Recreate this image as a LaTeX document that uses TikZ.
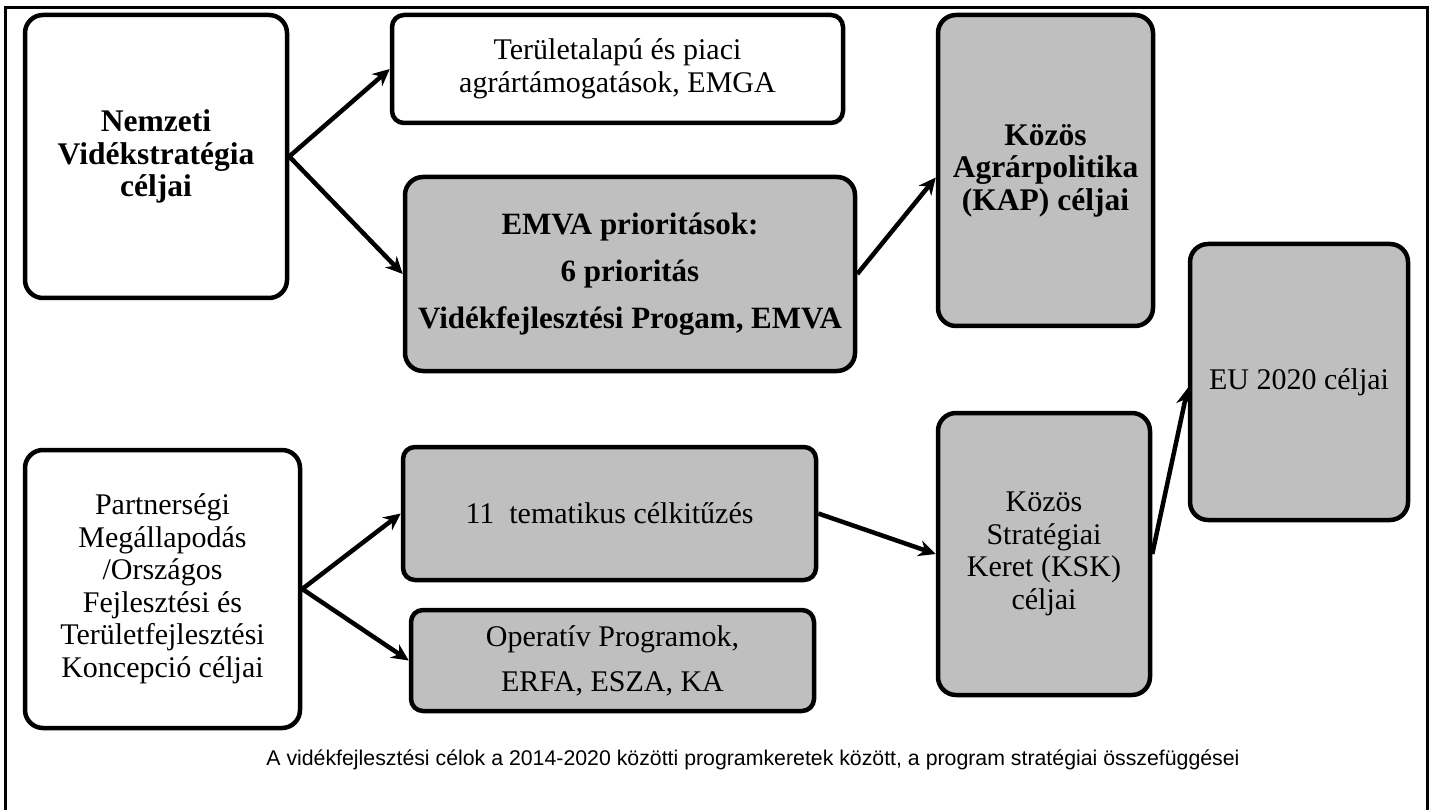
\documentclass[tikz,border=0pt]{standalone}
\usepackage{fontspec}
\setmainfont{Liberation Serif}
\newfontfamily\capfont{Liberation Sans}
\usepackage{tikz}
\usetikzlibrary{arrows.meta}
\definecolor{boxgray}{gray}{0.75}

\begin{document}
\begin{tikzpicture}[x=1pt, y=-1pt,
    box/.style={draw, rounded corners=18pt, line width=4.5pt, fill=white, align=center,
      inner sep=0pt, font=\fontsize{30}{32.5}\selectfont},
    gbox/.style={box, fill=boxgray},
    bbox/.style={font=\fontsize{31.5}{32.5}\selectfont\bfseries},
    arr/.style={line width=4.5pt, -{Stealth[length=17pt, width=16pt]}}]
        \useasboundingbox (0,0) rectangle (1430,810);
        \draw[line width=3pt] (5,8) rectangle (1427,816);

        % bal oldali celok
        \node[box, bbox, minimum width=262pt, minimum height=283pt] (nvs) at (156,156.5)
            {Nemzeti\\Vidékstratégia\\céljai};
        \node[box, minimum width=275pt, minimum height=278pt] (pm) at (162.5,589)
            {Partnerségi\\Megállapodás\\/Országos\\Fejlesztési és\\Területfejlesztési\\Koncepció céljai};

        % kozepso oszlop
        \node[box, rounded corners=12pt, minimum width=451pt, minimum height=108pt] (ter) at (617.5,69)
            {Területalapú és piaci\\agrártámogatások, EMGA};
        \node[gbox, minimum width=450pt, minimum height=194pt, font=\fontsize{31}{47}\selectfont\bfseries] (emva) at (630,274)
            {EMVA prioritások:\\6 prioritás\\Vidékfejlesztési Progam, EMVA};
        \node[gbox, rounded corners=12pt, minimum width=413pt, minimum height=133pt] (tem) at (609.5,513.5)
            {11\ \ tematikus célkitűzés};
        \node[gbox, rounded corners=12pt, minimum width=403pt, minimum height=101pt, font=\fontsize{30}{45}\selectfont] (op) at (612.5,660.5)
            {Operatív Programok,\\ERFA, ESZA, KA};

        % jobb oldal
        \node[gbox, bbox, minimum width=215pt, minimum height=311pt] (kap) at (1045.5,170.5)
            {Közös\\Agrárpolitika\\(KAP) céljai};
        \node[gbox, minimum width=212pt, minimum height=282pt] (ksk) at (1044,554)
            {Közös\\Stratégiai\\Keret (KSK)\\céljai};
        \node[gbox, minimum width=218pt, minimum height=276pt] (eu) at (1299,382)
            {EU 2020 céljai};

        \draw[arr] (nvs.east) -- (ter.west);
        \draw[arr] (nvs.east) -- (emva.west);
        \draw[arr] (emva.east) -- ([yshift=-7pt]kap.west);
        \draw[arr] (pm.east) -- (tem.west);
        \draw[arr] (pm.east) -- (op.west);
        \draw[arr] (tem.east) -- (ksk.west);
        \draw[arr] (ksk.east) -- ([yshift=-6pt]eu.west);

        \node[font=\capfont\fontsize{21.3}{24}\selectfont] (cap) at (753,760)
            {A vidékfejlesztési célok a 2014-2020 közötti programkeretek között, a program stratégiai összefüggései};
    \end{tikzpicture}
\end{document}
